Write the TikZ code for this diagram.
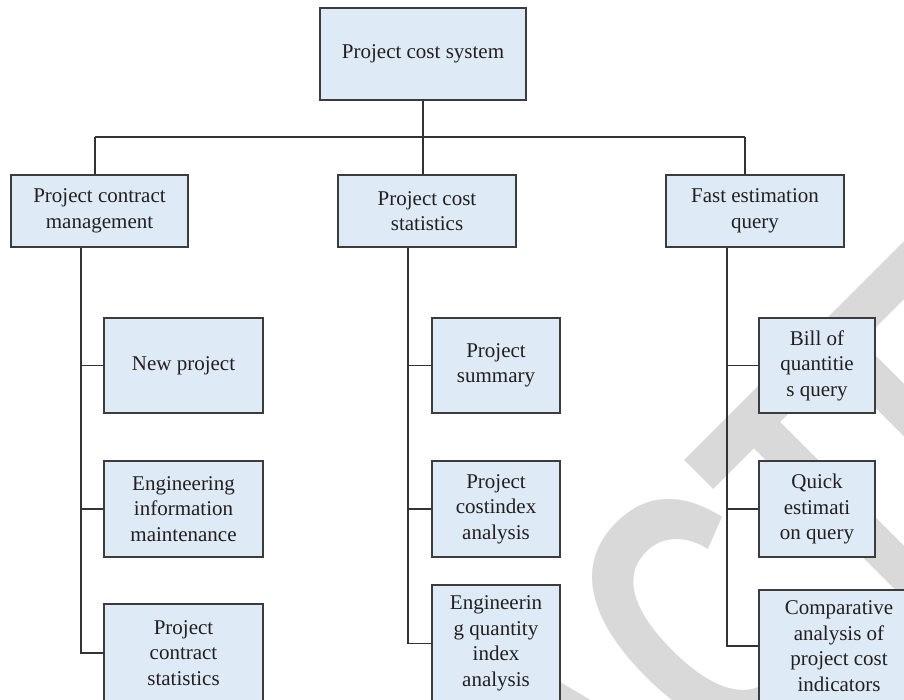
\documentclass[tikz,border=0pt]{standalone}
\usepackage{fontspec}
\setmainfont{Liberation Serif}
\newfontfamily\wmfont[FakeStretch=0.7]{Liberation Sans}
\definecolor{boxfill}{HTML}{DEEAF6}
\definecolor{boxline}{HTML}{3C3C3C}
\definecolor{linec}{HTML}{333333}
\definecolor{txt}{HTML}{231F20}
\definecolor{wm}{HTML}{D9D9D9}
\begin{document}
\begin{tikzpicture}[x=1pt,y=-1pt,
  box/.style={draw=boxline, fill=boxfill, line width=1.2pt, align=center, text=txt,
              inner sep=0pt, font=\fontsize{21}{25.5}\selectfont},
  conn/.style={draw=linec, line width=1.2pt}]
\useasboundingbox (0,0) rectangle (904,699);
\fill[white] (0,0) rectangle (904,699);
\begin{scope}
  \clip (0,0) rectangle (904,699);
  \node[rotate=45, anchor=base west, text=wm, inner sep=0pt,
        font=\wmfont\bfseries\fontsize{370}{370}\selectfont] (wmark) at (99,1406) {RETRACTED};
\end{scope}

% level 1
\node[box, minimum width=206, minimum height=92] (top) at (423,54) {Project cost system};
% level 2
\node[box, minimum width=177, minimum height=72] (pcm) at (99.5,211) {Project contract\\management};
\node[box, minimum width=178, minimum height=72] (pcs) at (427,211) {Project cost\\statistics};
\node[box, minimum width=178, minimum height=72] (feq) at (755,211) {Fast estimation\\query};
% leaves left
\node[box, minimum width=159, minimum height=95] (l1) at (183.5,365.5) {New project};
\node[box, minimum width=159, minimum height=96] (l2) at (183.5,509) {Engineering\\information\\maintenance};
\node[box, minimum width=159, minimum height=98] (l3) at (183.5,653) {Project\\contract\\statistics};
% leaves middle
\node[box, minimum width=128, minimum height=95] (m1) at (496,365.5) {Project\\summary};
\node[box, minimum width=128, minimum height=96] (m2) at (496,509) {Project\\costindex\\analysis};
\node[box, minimum width=128, minimum height=117] (m3) at (496,643.5) {Engineerin\\g quantity\\index\\analysis};
% leaves right
\node[box, minimum width=116, minimum height=95] (r1) at (817,365.5) {Bill of\\quantitie\\s query};
\node[box, minimum width=116, minimum height=96] (r2) at (817,509) {Quick\\estimati\\on query};
\node[box, minimum width=160, minimum height=112] (r3) at (839,646) {Comparative\\analysis of\\project cost\\indicators};

% connectors
\coordinate (j1) at (95,137);
\coordinate (j3) at (745,137);
\coordinate (t1) at (81,0);
\coordinate (t2) at (408,0);
\coordinate (t3) at (727,0);
\draw[conn] (top.south) -- (top.south |- j1);
\draw[conn] (j1) -- (j3);
\draw[conn] (j1) -- (j1 |- pcm.north);
\draw[conn] (top.south |- j1) -- (top.south |- pcs.north);
\draw[conn] (j3) -- (j3 |- feq.north);

\draw[conn] (t1 |- pcm.south) -- (t1 |- l3.west) -- (l3.west);
\draw[conn] (l1.west) -- (l1.west -| t1);
\draw[conn] (l2.west) -- (l2.west -| t1);

\draw[conn] (t2 |- pcs.south) -- (t2 |- m3.west) -- (m3.west);
\draw[conn] (m1.west) -- (m1.west -| t2);
\draw[conn] (m2.west) -- (m2.west -| t2);

\draw[conn] (t3 |- feq.south) -- (t3 |- r3.west) -- (r3.west);
\draw[conn] (r1.west) -- (r1.west -| t3);
\draw[conn] (r2.west) -- (r2.west -| t3);
\end{tikzpicture}
\end{document}
